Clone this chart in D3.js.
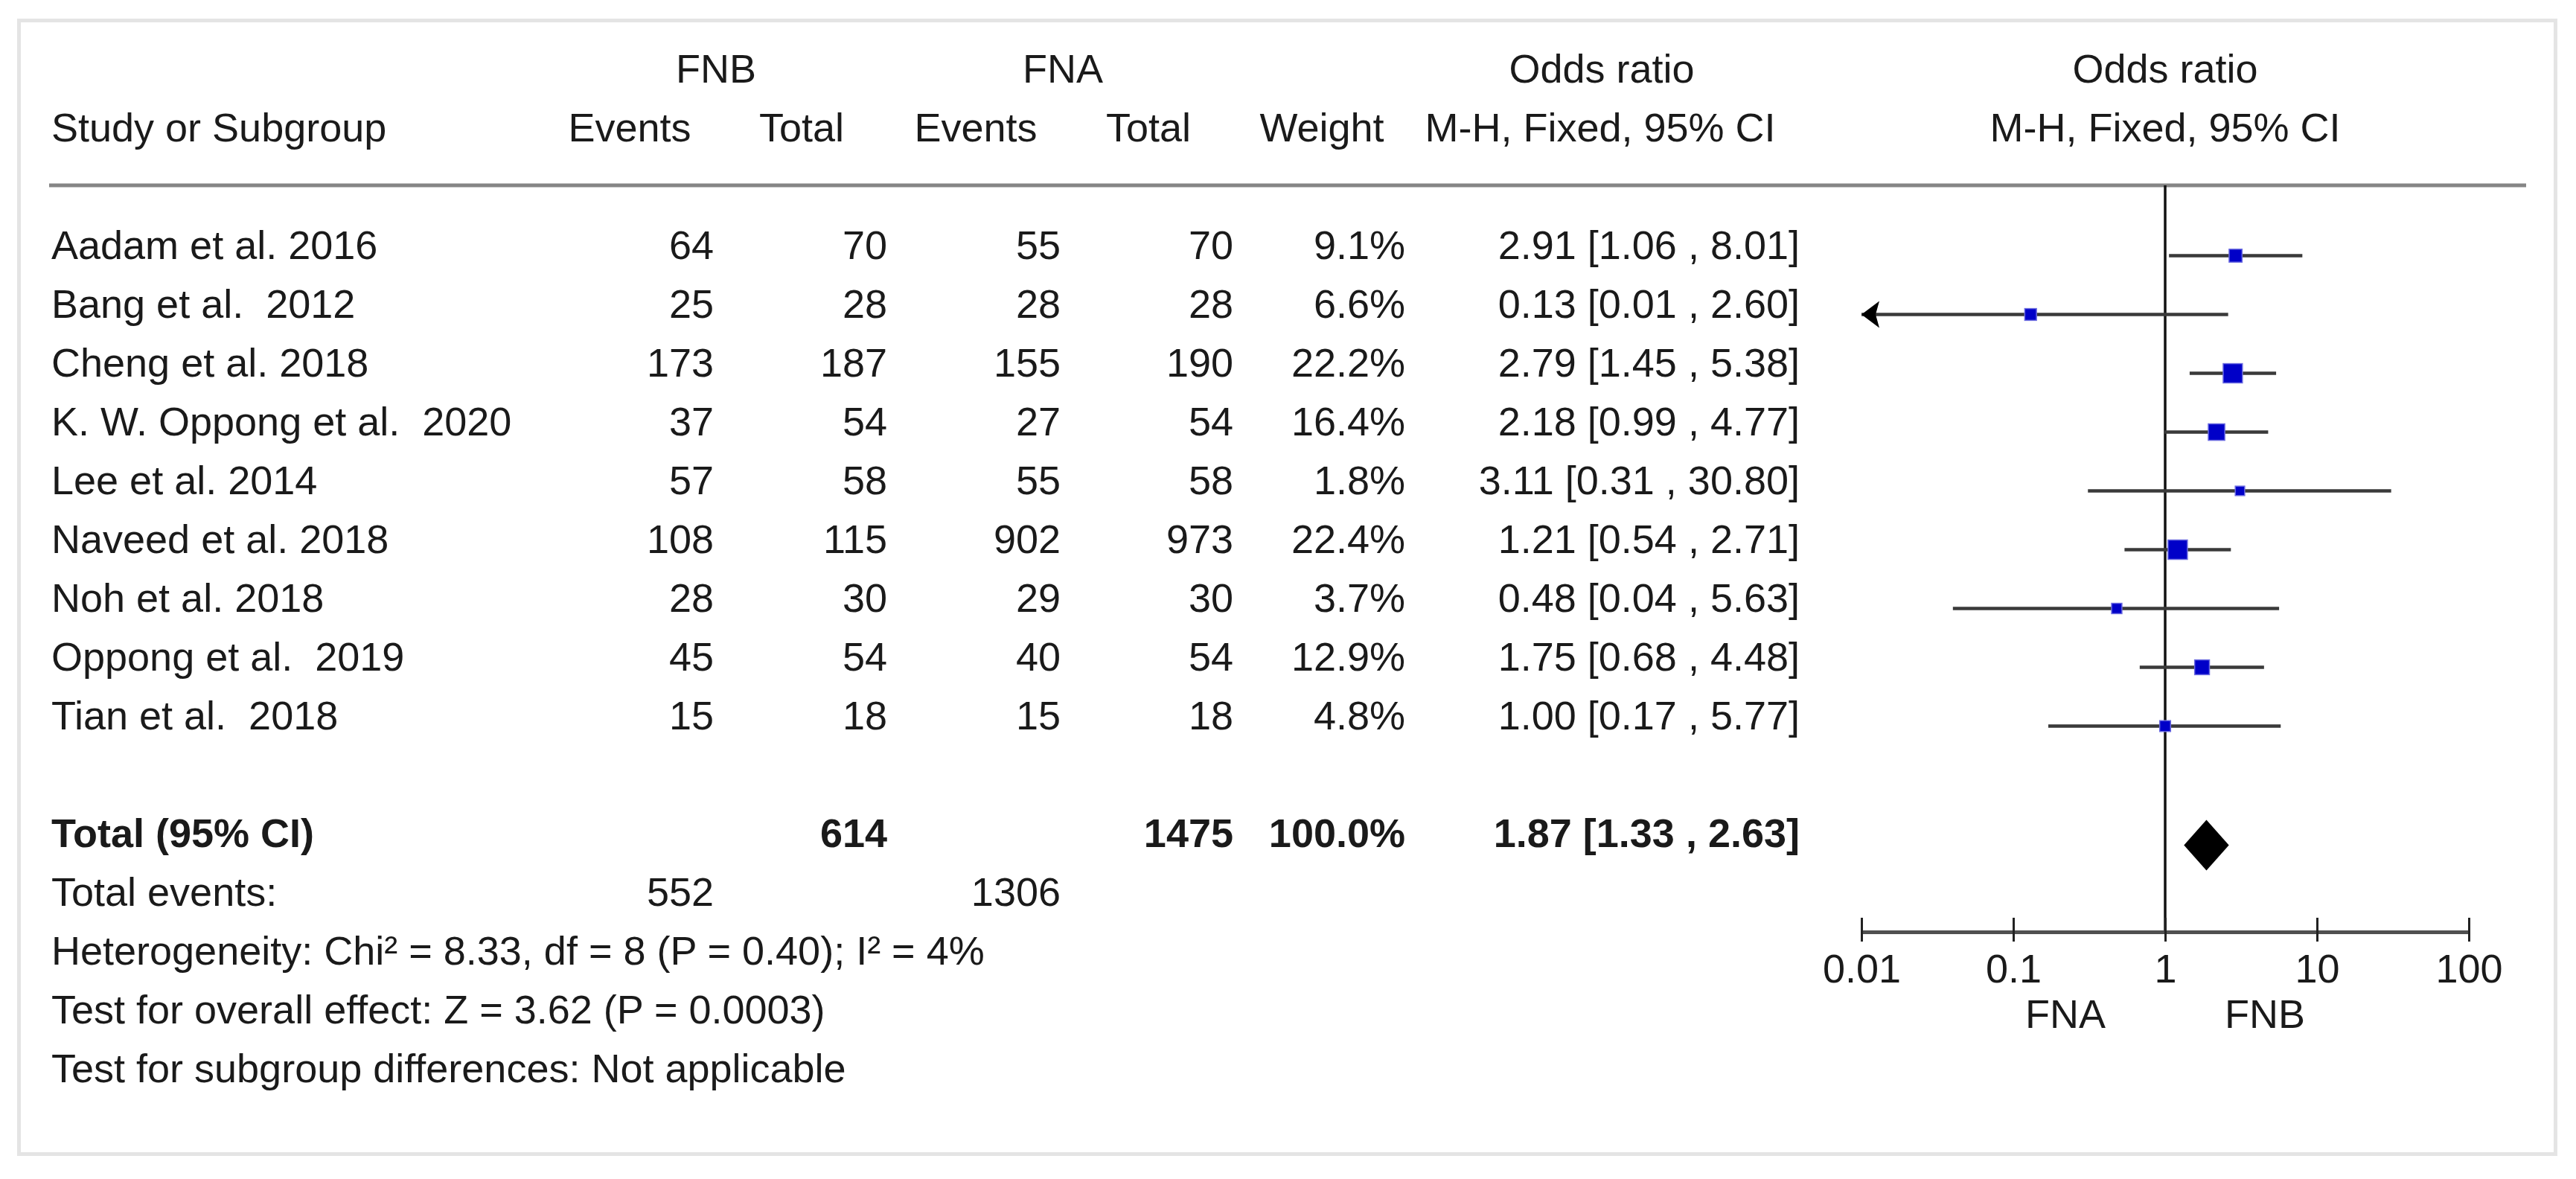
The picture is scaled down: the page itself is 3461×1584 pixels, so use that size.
<!DOCTYPE html>
<html>
<head>
<meta charset="utf-8">
<script src="https://cdn.jsdelivr.net/npm/d3@7"></script>
<style>
  html, body { margin: 0; padding: 0; background: #ffffff; }
  svg { display: block; }
  text { font-family: "Liberation Sans", Arial, sans-serif; fill: #1a1a1a; white-space: pre; }
</style>
</head>
<body>
<svg id="chart" width="3461" height="1584"></svg>
<script>
// ---------------- data ----------------
const studies = ["Aadam et al. 2016", "Bang et al.  2012", "Cheng et al. 2018", "K. W. Oppong et al.  2020",
  "Lee et al. 2014", "Naveed et al. 2018", "Noh et al. 2018", "Oppong et al.  2019", "Tian et al.  2018"];
const fnbEvents = [64, 25, 173, 37, 57, 108, 28, 45, 15];
const fnbTotal  = [70, 28, 187, 54, 58, 115, 30, 54, 18];
const fnaEvents = [55, 28, 155, 27, 55, 902, 29, 40, 15];
const fnaTotal  = [70, 28, 190, 54, 58, 973, 30, 54, 18];
const weights   = [9.1, 6.6, 22.2, 16.4, 1.8, 22.4, 3.7, 12.9, 4.8];
const oddsRatio = [2.91, 0.13, 2.79, 2.18, 3.11, 1.21, 0.48, 1.75, 1.00];
const ciLower   = [1.06, 0.01, 1.45, 0.99, 0.31, 0.54, 0.04, 0.68, 0.17];
const ciUpper   = [8.01, 2.60, 5.38, 4.77, 30.80, 2.71, 5.63, 4.48, 5.77];

const totalFnbTotal = 614, totalFnaTotal = 1475, totalWeight = 100.0;
const totalOR = 1.87, totalLower = 1.33, totalUpper = 2.63;
const totalFnbEvents = 552, totalFnaEvents = 1306;
const footerLines = [
  "Heterogeneity: Chi\u00B2 = 8.33, df = 8 (P = 0.40); I\u00B2 = 4%",
  "Test for overall effect: Z = 3.62 (P = 0.0003)",
  "Test for subgroup differences: Not applicable"
];
const tickValues = [0.01, 0.1, 1, 10, 100];
const tickLabels = ["0.01", "0.1", "1", "10", "100"];
const favoursLeft = "FNA", favoursRight = "FNB";

// ---------------- layout ----------------
const svg = d3.select("#chart");
const FS = 54;
const rowStep = 79;
const firstRow = 347.5;
const rowY = i => firstRow + rowStep * i;          // text baselines
const x = d3.scaleLog().domain([0.01, 100]).range([2501, 3317]);
const boxSize = d3.scaleLinear().domain([0, 22.4]).range([11.5, 26]);

const col = { name: 69, fnbE: 959, fnbT: 1192, fnaE: 1425, fnaT: 1657, wt: 1888, or: 2418 };

// border
svg.append("rect").attr("x", 25.5).attr("y", 27.5).attr("width", 3408).attr("height", 1523)
  .attr("fill", "none").attr("stroke", "#e4e4e4").attr("stroke-width", 5);

function txt(s, xx, yy, anchor, bold) {
  return svg.append("text").attr("x", xx).attr("y", yy).attr("text-anchor", anchor || "start")
    .attr("font-size", FS).attr("font-weight", bold ? "bold" : "normal").text(s);
}

// headers
const h1 = 111, h2 = 190;
txt("FNB", 962, h1, "middle");
txt("FNA", 1428, h1, "middle");
txt("Odds ratio", 2152, h1, "middle");
txt("Odds ratio", x(1), h1, "middle");
txt("Study or Subgroup", col.name, h2);
txt("Events", 846, h2, "middle");
txt("Total", 1077, h2, "middle");
txt("Events", 1311, h2, "middle");
txt("Total", 1543, h2, "middle");
txt("Weight", 1776, h2, "middle");
txt("M-H, Fixed, 95% CI", 2150, h2, "middle");
txt("M-H, Fixed, 95% CI", x(1), h2, "middle");

// header separator
const sepY = 249;
svg.append("line").attr("x1", 66).attr("x2", 3394).attr("y1", sepY).attr("y2", sepY)
  .attr("stroke", "#858585").attr("stroke-width", 5);

// axis position
const axisY = 1252;

// line of no effect
svg.append("line").attr("x1", x(1)).attr("x2", x(1)).attr("y1", sepY).attr("y2", axisY)
  .attr("stroke", "#111").attr("stroke-width", 3.5);

const fmt2 = d3.format(".2f");
const ciText = (o, l, u) => `${fmt2(o)} [${fmt2(l)} , ${fmt2(u)}]`;

// study rows
studies.forEach((s, i) => {
  const y = rowY(i);
  txt(s, col.name, y);
  txt(String(fnbEvents[i]), col.fnbE, y, "end");
  txt(String(fnbTotal[i]), col.fnbT, y, "end");
  txt(String(fnaEvents[i]), col.fnaE, y, "end");
  txt(String(fnaTotal[i]), col.fnaT, y, "end");
  txt(d3.format(".1f")(weights[i]) + "%", col.wt, y, "end");
  txt(ciText(oddsRatio[i], ciLower[i], ciUpper[i]), col.or, y, "end");

  const my = y - 4;
  const [d0, d1] = x.domain();
  const lo = Math.max(ciLower[i], d0), hi = Math.min(ciUpper[i], d1);
  svg.append("line").attr("x1", x(lo)).attr("x2", x(hi)).attr("y1", my).attr("y2", my)
    .attr("stroke", "#3a3a3a").attr("stroke-width", 4.5);
  if (ciLower[i] <= d0) {
    const tx = x(d0);
    svg.append("path").attr("d", `M${tx},${my} L${tx + 24},${my - 18} L${tx + 19},${my} L${tx + 24},${my + 18} Z`)
      .attr("fill", "#000");
  }
  const b = boxSize(weights[i]);
  svg.append("rect").attr("x", x(oddsRatio[i]) - b / 2).attr("y", my - b / 2)
    .attr("width", b).attr("height", b).attr("fill", "#0000c8")
    .attr("stroke", "#6a6ae0").attr("stroke-width", 1.5);
});

// total row
const ty = rowY(10);
txt("Total (95% CI)", col.name, ty, "start", true);
txt(String(totalFnbTotal), col.fnbT, ty, "end", true);
txt(String(totalFnaTotal), col.fnaT, ty, "end", true);
txt(d3.format(".1f")(totalWeight) + "%", col.wt, ty, "end", true);
txt(ciText(totalOR, totalLower, totalUpper), col.or, ty, "end", true);
const dy = ty - 2, dh = 34;
svg.append("path")
  .attr("d", `M${x(totalLower)},${dy} L${x(totalOR)},${dy - dh} L${x(totalUpper)},${dy} L${x(totalOR)},${dy + dh} Z`)
  .attr("fill", "#000");

// total events
const tey = rowY(11);
txt("Total events:", col.name, tey);
txt(String(totalFnbEvents), col.fnbE, tey, "end");
txt(String(totalFnaEvents), col.fnaE, tey, "end");

footerLines.forEach((s, k) => txt(s, col.name, rowY(12 + k)));

// axis
const axis = d3.axisBottom(x).tickValues(tickValues).tickFormat((d, i) => tickLabels[i])
  .tickSizeOuter(0).tickSizeInner(0).tickPadding(0);
const ag = svg.append("g").attr("transform", `translate(0,${axisY})`).call(axis);
ag.select(".domain").attr("stroke", "#505050").attr("stroke-width", 5);
ag.selectAll(".tick line").attr("y1", -19).attr("y2", 13).attr("stroke", "#222").attr("stroke-width", 3);
ag.selectAll(".tick text").attr("y", 68).attr("dy", null)
  .attr("font-size", FS).attr("font-family", "'Liberation Sans', Arial, sans-serif").attr("fill", "#1a1a1a");

txt(favoursLeft, x(1) - 80, 1381, "end");
txt(favoursRight, x(1) + 80, 1381, "start");
</script>
</body>
</html>
